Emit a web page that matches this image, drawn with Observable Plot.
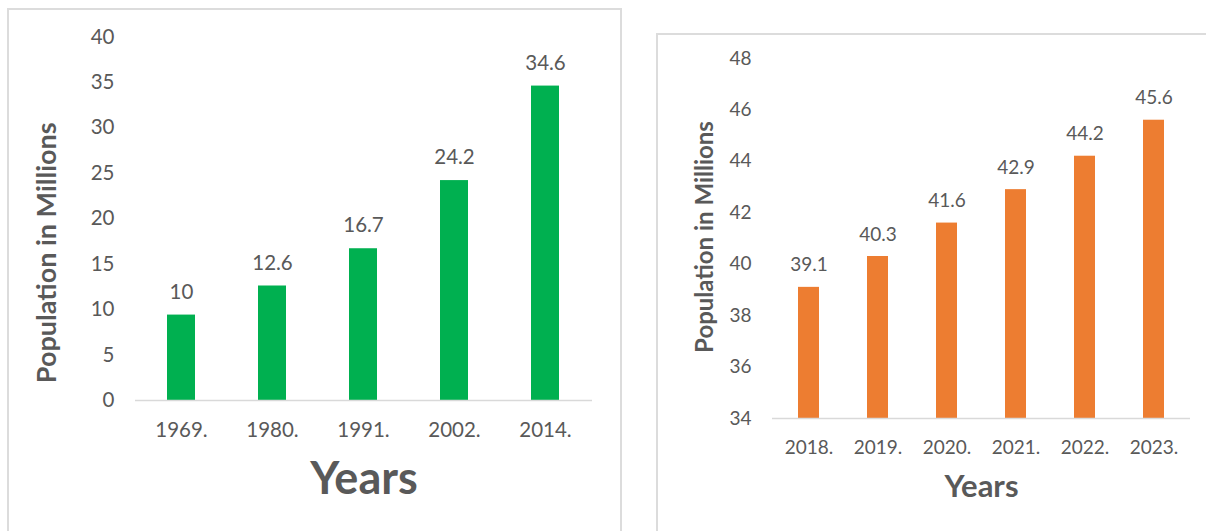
<!DOCTYPE html>
<html>
<head>
<meta charset="utf-8">
<script src="https://cdn.jsdelivr.net/npm/d3@7"></script>
<script src="https://cdn.jsdelivr.net/npm/@observablehq/plot@0.6"></script>
<style>
  html, body { margin: 0; padding: 0; background: #fff; }
  #wrap { position: relative; width: 1206px; height: 531px; overflow: hidden; background: #fff; }
  .panel { position: absolute; box-sizing: border-box; border: 2px solid #dcdcdc; border-bottom: none; pointer-events: none; z-index: 2; }
  .chart { position: absolute; top: 0; }
</style>
</head>
<body>
<div id="wrap">
  <div class="panel" style="left:7px; top:8px; width:615px; height:540px;"></div>
  <div class="panel" style="left:656px; top:33px; width:600px; height:520px; border-right:none;"></div>
  <div class="chart" id="left" style="left:0px;"></div>
  <div class="chart" id="right" style="left:640px;"></div>
</div>
<script>
// Left chart data
const leftYears = ["1969.", "1980.", "1991.", "2002.", "2014."];
const leftValues = [9.4, 12.6, 16.7, 24.2, 34.6];
const leftLabels = ["10", "12.6", "16.7", "24.2", "34.6"];
const leftTicks = [0, 5, 10, 15, 20, 25, 30, 35, 40];

// Right chart data
const rightYears = ["2018.", "2019.", "2020.", "2021.", "2022.", "2023."];
const rightValues = [39.1, 40.3, 41.6, 42.9, 44.2, 45.6];
const rightLabels = ["39.1", "40.3", "41.6", "42.9", "44.2", "45.6"];
const rightTicks = [34, 36, 38, 40, 42, 44, 46, 48];

const yTitle = "Population in Millions";
const xTitle = "Years";

const leftData = leftYears.map((year, i) => ({year, value: leftValues[i], label: leftLabels[i]}));
const rightData = rightYears.map((year, i) => ({year, value: rightValues[i], label: rightLabels[i]}));

const baseStyle = {fontFamily: "Lato, 'Open Sans', sans-serif", color: "#595959", background: "transparent", overflow: "visible"};

const left = Plot.plot({
  width: 630, height: 531,
  marginLeft: 135, marginRight: 38, marginTop: 36.5, marginBottom: 131,
  style: baseStyle,
  x: {type: "band", domain: leftYears, paddingInner: 0.69, paddingOuter: 0.345, axis: null},
  y: {domain: [leftTicks[0], leftTicks[leftTicks.length - 1]], axis: null},
  marks: [
    Plot.axisY(leftTicks, {tickSize: 0, tickPadding: 21, fontSize: 20.5, label: null}),
    Plot.axisX({tickSize: 0, tickPadding: 22, fontSize: 20.5, label: null}),
    Plot.barY(leftData, {x: "year", y: "value", fill: "#00b050"}),
    Plot.ruleY([leftTicks[0]], {stroke: "#d9d9d9", strokeWidth: 1.5}),
    Plot.text(leftData, {x: "year", y: "value", text: "label", dy: -23, fontSize: 20.5, fill: "#595959"}),
    Plot.text([yTitle], {text: d => d, frameAnchor: "left", textAnchor: "middle", rotate: -90, dx: -88, dy: 34, fontSize: 27, fontWeight: "bold", fill: "#595959"}),
    Plot.text([xTitle], {text: d => d, frameAnchor: "bottom", dy: 93, fontSize: 45, fontWeight: "bold", fill: "#595959"})
  ]
});
document.getElementById("left").appendChild(left);

const right = Plot.plot({
  width: 566, height: 531,
  marginLeft: 132, marginRight: 16, marginTop: 58, marginBottom: 113,
  style: baseStyle,
  x: {type: "band", domain: rightYears, paddingInner: 0.69, paddingOuter: 0.345, axis: null},
  y: {domain: [rightTicks[0], rightTicks[rightTicks.length - 1]], axis: null},
  marks: [
    Plot.axisY(rightTicks, {tickSize: 0, tickPadding: 21, fontSize: 19, label: null}),
    Plot.axisX({tickSize: 0, tickPadding: 22, fontSize: 19, label: null}),
    Plot.barY(rightData, {x: "year", y1: () => rightTicks[0], y2: "value", fill: "#ed7d31"}),
    Plot.ruleY([rightTicks[0]], {stroke: "#d9d9d9", strokeWidth: 1.5}),
    Plot.text(rightData, {x: "year", y: "value", text: "label", dy: -22, fontSize: 19, fill: "#595959"}),
    Plot.text([yTitle], {text: d => d, frameAnchor: "left", textAnchor: "middle", rotate: -90, dx: -67, dy: -1.5, fontSize: 24, fontWeight: "bold", fill: "#595959"}),
    Plot.text([xTitle], {text: d => d, frameAnchor: "bottom", dy: 78, fontSize: 31, fontWeight: "bold", fill: "#595959"})
  ]
});
document.getElementById("right").appendChild(right);
</script>
</body>
</html>
